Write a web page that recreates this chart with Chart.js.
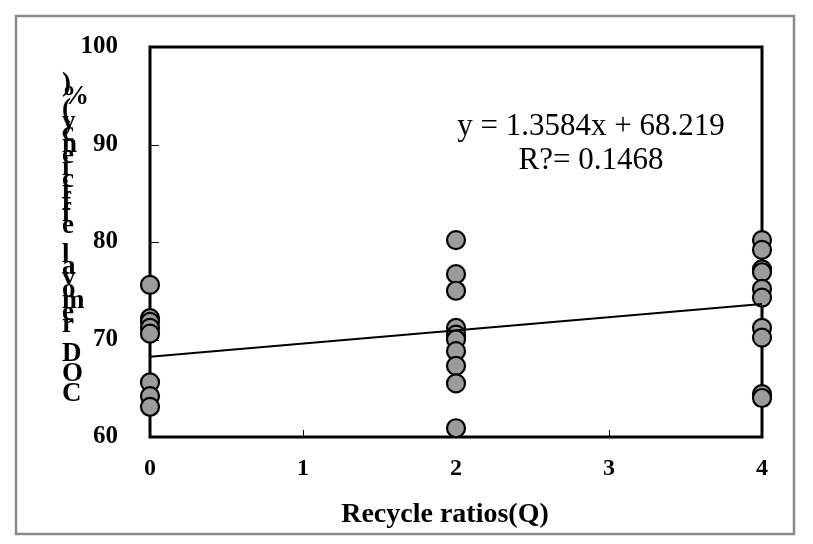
<!DOCTYPE html>
<html>
<head>
<meta charset="utf-8">
<script src="https://cdn.jsdelivr.net/npm/chart.js@4/dist/chart.umd.min.js"></script>
<style>
  html, body { margin: 0; padding: 0; background: #fff; }
  #wrap { width: 813px; height: 544px; position: relative; }
</style>
</head>
<body>
<div id="wrap"><canvas id="c" width="813" height="544"></canvas></div>
<script>
// ---- data ----
const xTickLabels = ['0', '1', '2', '3', '4'];
const yTickLabels = ['60', '70', '80', '90', '100'];
const recycleRatios = [0, 2, 4];
const removalQ0 = [75.6, 72.2, 71.8, 71.2, 70.6, 65.6, 64.2, 63.1];
const removalQ2 = [80.2, 76.7, 75.0, 71.2, 70.5, 70.0, 68.8, 67.3, 65.5, 60.9];
const removalQ4 = [80.2, 79.2, 77.2, 76.9, 75.2, 74.3, 71.2, 70.2, 64.4, 64.0];
const trendSlope = 1.3584;
const trendIntercept = 68.219;
const equationLines = ['y = 1.3584x + 68.219', 'R?= 0.1468'];
const xTitle = 'Recycle ratios(Q)';
const yTitleChars = ')%(ycneiciffe lavomer DOC';

const groups = [removalQ0, removalQ2, removalQ4];
const scatterPoints = [];
groups.forEach((vals, gi) => vals.forEach(v => scatterPoints.push({ x: recycleRatios[gi], y: v })));
const trendPoints = [
  { x: recycleRatios[0], y: trendIntercept + trendSlope * recycleRatios[0] },
  { x: recycleRatios[recycleRatios.length - 1], y: trendIntercept + trendSlope * recycleRatios[recycleRatios.length - 1] }
];

const SERIF = '"Liberation Serif", "Times New Roman", serif';

const decorPlugin = {
  id: 'decor',
  beforeDraw(chart) {
    const ctx = chart.ctx;
    ctx.save();
    ctx.fillStyle = '#fff';
    ctx.fillRect(0, 0, chart.width, chart.height);
    ctx.strokeStyle = '#8a8a8a';
    ctx.lineWidth = 2.5;
    ctx.strokeRect(16, 16, 778, 518);
    ctx.restore();
  },
  beforeDatasetsDraw(chart) {
    const ctx = chart.ctx;
    const a = chart.chartArea;
    const xs = chart.scales.x, ys = chart.scales.y;
    ctx.save();
    ctx.strokeStyle = '#000';
    ctx.lineWidth = 3;
    ctx.strokeRect(a.left, a.top, a.right - a.left, a.bottom - a.top);
    ctx.lineWidth = 1;
    xs.ticks.forEach(t => {
      const px = Math.round(xs.getPixelForValue(t.value)) + 0.5;
      ctx.beginPath(); ctx.moveTo(px, a.bottom); ctx.lineTo(px, a.bottom - 7); ctx.stroke();
    });
    ys.ticks.forEach(t => {
      const py = Math.round(ys.getPixelForValue(t.value)) + 0.5;
      ctx.beginPath(); ctx.moveTo(a.left, py); ctx.lineTo(a.left + 9, py); ctx.stroke();
    });
    ctx.restore();
  },
  afterDraw(chart) {
    const ctx = chart.ctx;
    ctx.save();
    ctx.fillStyle = '#000';
    ctx.font = '31px ' + SERIF;
    ctx.textAlign = 'center';
    ctx.textBaseline = 'alphabetic';
    ctx.fillText(equationLines[0], 591, 135);
    ctx.fillText(equationLines[1], 591, 169);
    ctx.font = 'bold 28px ' + SERIF;
    ctx.fillText(xTitle, 445, 522);
    ctx.font = 'bold 27px ' + SERIF;
    ctx.textAlign = 'left';
    ctx.textBaseline = 'middle';
    let y = 84;
    for (let i = 0; i < yTitleChars.length; i++) {
      const ch = yTitleChars[i];
      if (ch !== ' ') ctx.fillText(ch, 62, y);
      const next = yTitleChars[i + 1];
      let step = 11.6;
      if (ch === ')' || ch === '%') step = 13;
      if (ch === ' ') step = 17;
      if (next === ' ') step = 12;
      if (/[A-Z]/.test(ch)) step = 20;
      y += step;
    }
    ctx.restore();
  }
};

new Chart(document.getElementById('c'), {
  type: 'scatter',
  data: {
    datasets: [
      {
        type: 'line',
        label: 'trend',
        data: trendPoints,
        borderColor: '#000',
        borderWidth: 2,
        pointRadius: 0,
        fill: false,
        clip: false,
        order: 0
      },
      {
        label: 'DOC',
        data: scatterPoints,
        backgroundColor: '#9c9c9c',
        borderColor: '#000',
        borderWidth: 2.2,
        pointRadius: 9,
        pointHoverRadius: 9,
        clip: false,
        order: 1
      }
    ]
  },
  options: {
    responsive: false,
    animation: false,
    events: [],
    layout: { padding: { left: 0, top: 47, right: 51, bottom: 0 } },
    plugins: { legend: { display: false }, tooltip: { enabled: false } },
    scales: {
      x: {
        type: 'linear',
        min: 0, max: 4,
        grid: { display: false, drawTicks: false },
        border: { display: false },
        ticks: {
          stepSize: 1,
          padding: 17,
          color: '#000',
          font: { family: SERIF, size: 24, weight: 'bold' },
          callback: (v, i) => xTickLabels[i]
        },
        afterFit: s => { s.height = 107; }
      },
      y: {
        type: 'linear',
        min: 60, max: 100,
        grid: { display: false, drawTicks: false },
        border: { display: false },
        ticks: {
          stepSize: 10,
          padding: 32,
          color: '#000',
          font: { family: SERIF, size: 25, weight: 'bold' },
          callback: (v, i) => yTickLabels[i]
        },
        afterFit: s => { s.width = 150; }
      }
    }
  },
  plugins: [decorPlugin]
});
</script>
</body>
</html>
